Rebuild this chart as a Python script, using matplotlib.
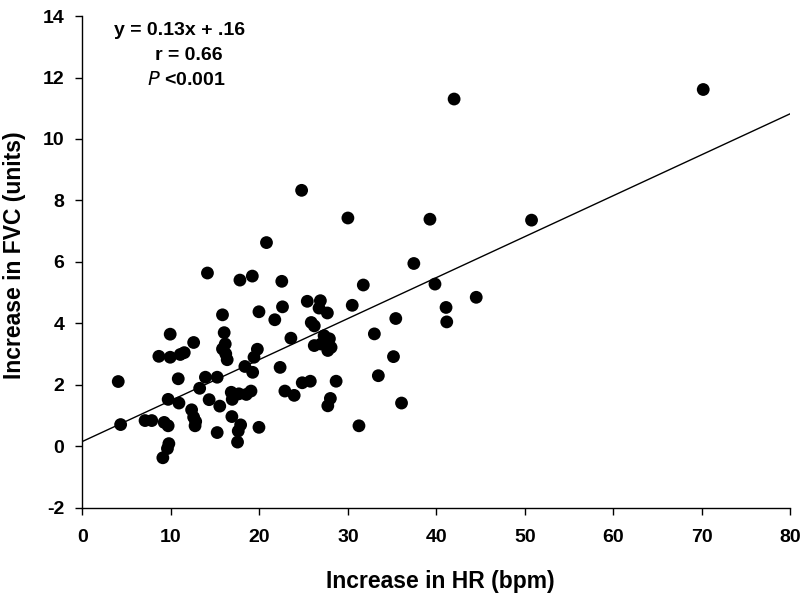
import numpy as np
import matplotlib
matplotlib.use('Agg')
import matplotlib.pyplot as plt

plt.rcParams['font.family'] = ['Liberation Sans', 'DejaVu Sans']
plt.rcParams['axes.unicode_minus'] = False

# increase in heart rate (bpm)
hr = [4.05, 4.32, 7.08, 7.84, 9.24, 9.69, 9.77, 9.61, 9.09, 9.69,
      10.91, 10.83, 8.64, 9.92, 11.06, 11.51, 9.92, 12.57, 13.25, 13.90,
      15.23, 14.32, 15.52, 12.34, 12.57, 12.80, 12.73, 15.23, 16.89, 17.88,
      17.61, 17.53, 19.95, 16.82, 16.93, 17.68, 18.52, 19.05, 15.83, 16.02,
      16.14, 15.83, 16.20, 16.36, 14.13, 17.80, 19.20, 20.80, 19.95, 21.74,
      19.77, 19.39, 18.36, 19.24, 22.53, 22.61, 24.77, 30.0, 25.41, 26.89,
      26.74, 27.68, 30.49, 25.86, 26.20, 23.56, 32.99, 27.31, 27.91, 26.20,
      26.97, 27.73, 28.10, 27.53, 22.34, 35.15, 33.44, 24.84, 25.75, 28.67,
      22.88, 23.93, 28.02, 27.73, 36.06, 31.25, 31.74, 35.41, 37.45, 39.27,
      39.84, 44.50, 41.09, 41.17, 50.75, 42.0, 70.15]
# increase in FVC (units)
fvc = [2.11, 0.71, 0.84, 0.84, 0.78, 0.67, 0.09, -0.07, -0.37, 1.53,
       1.41, 2.20, 2.93, 2.90, 2.99, 3.05, 3.65, 3.38, 1.89, 2.25,
       2.25, 1.52, 1.31, 1.19, 0.95, 0.81, 0.67, 0.45, 0.97, 0.70,
       0.50, 0.14, 0.62, 1.76, 1.53, 1.71, 1.69, 1.80, 4.28, 3.70,
       3.33, 3.17, 3.01, 2.82, 5.64, 5.41, 5.54, 6.63, 4.38, 4.12,
       3.16, 2.90, 2.60, 2.41, 5.37, 4.54, 8.33, 7.43, 4.72, 4.74,
       4.50, 4.34, 4.59, 4.03, 3.92, 3.52, 3.66, 3.60, 3.50, 3.28,
       3.33, 3.12, 3.22, 3.39, 2.57, 2.92, 2.30, 2.07, 2.12, 2.12,
       1.80, 1.66, 1.56, 1.32, 1.41, 0.67, 5.25, 4.16, 5.95, 7.39,
       5.28, 4.85, 4.52, 4.05, 7.36, 11.30, 11.61]

slope = 0.1333
intercept = 0.16

fig = plt.figure(figsize=(8, 5.94), dpi=100)
ax = fig.add_axes([0.103, 0.145, 0.885, 0.828])

ax.scatter(hr, fvc, s=85, color='black', edgecolors='none', zorder=3)
xl = np.array([0, 80])
ax.plot(xl, slope * xl + intercept, color='black', linewidth=1.0)

ax.set_xlim(0, 80)
ax.set_ylim(-2, 14)
ax.set_xticks(np.arange(0, 81, 10))
ax.set_yticks(np.arange(-2, 15, 2))

ax.spines['top'].set_visible(False)
ax.spines['right'].set_visible(False)
ax.spines['left'].set_linewidth(1.0)
ax.spines['bottom'].set_linewidth(1.0)
ax.tick_params(direction='out', length=5, width=1, labelsize=14)
ax.tick_params(axis='x', pad=10)
ax.tick_params(axis='y', pad=8)
for lab in ax.get_xticklabels() + ax.get_yticklabels():
    lab.set_fontweight('bold')

fig.text(0.55, 0.021, 'Increase in HR (bpm)', fontsize=16.5, fontweight='bold',
         ha='center', va='center')
fig.text(0.018, 0.571, 'Increase in FVC (units)', fontsize=16.5, fontweight='bold',
         ha='center', va='center', rotation=90)

fs = 14
fig.text(0.224, 0.949, 'y = 0.13x + .16', fontsize=fs, fontweight='bold',
         ha='center', va='center')
fig.text(0.236, 0.907, 'r = 0.66', fontsize=fs, fontweight='bold',
         ha='center', va='center')
fig.text(0.233, 0.865, r'$\bf{\it{P}}$ <0.001', fontsize=fs, fontweight='bold',
         ha='center', va='center')

plt.savefig('out.png', dpi=100)
plt.close()
